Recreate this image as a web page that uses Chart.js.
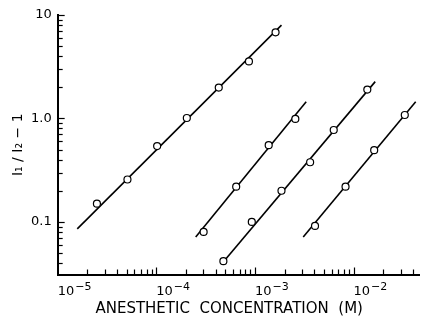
<!DOCTYPE html>
<html>
<head>
<meta charset="utf-8">
<script src="https://cdn.jsdelivr.net/npm/chart.js@4"></script>
<style>
  body { margin: 0; background: #fff; }
  #wrap { width: 425px; height: 318px; }
</style>
</head>
<body>
<div id="wrap"><canvas id="myChart"></canvas></div>
<script>
// measured points, four anesthetics
const s1X = [2.5e-5, 5.1e-5, 1.02e-4, 2.04e-4, 4.3e-4, 8.7e-4, 1.62e-3];
const s1Y = [0.15, 0.257, 0.54, 1.01, 1.99, 3.56, 6.8];
const s2X = [3.02e-4, 6.46e-4, 1.38e-3, 2.57e-3];
const s2Y = [0.080, 0.219, 0.551, 0.99];
const s3X = [4.79e-4, 9.3e-4, 1.86e-3, 3.63e-3, 6.3e-3, 1.38e-2];
const s3Y = [0.0417, 0.1, 0.2, 0.377, 0.773, 1.9];
const s4X = [4.07e-3, 8.3e-3, 1.62e-2, 3.31e-2];
const s4Y = [0.0914, 0.219, 0.493, 1.08];

// fitted lines (end points)
const fit1X = [1.58e-5, 1.86e-3];
const fit1Y = [0.0855, 7.98];
const fit2X = [2.51e-4, 3.31e-3];
const fit2Y = [0.0714, 1.45];
const fit3X = [4.57e-4, 1.66e-2];
const fit3Y = [0.039, 2.27];
const fit4X = [3.09e-3, 4.27e-2];
const fit4Y = [0.0714, 1.45];

const xTickVals = [1e-5, 1e-4, 1e-3, 1e-2];
const xTickBase = ['10', '10', '10', '10'];
const xTickExp = ['\u22125', '\u22124', '\u22123', '\u22122'];
const yTickVals = [0.1, 1, 10];
const yTickLabels = ['0.1', '1.0', '10'];

const xMin = 1e-5, xMax = 0.047;
const yMin = 0.031, yMax = 10;

const toPts = (xs, ys) => xs.map((x, i) => ({ x: x, y: ys[i] }));

function pointSet(xs, ys) {
    return {
        data: toPts(xs, ys),
        showLine: false,
        pointRadius: 3.5,
        pointBorderWidth: 1.2,
        pointBorderColor: '#000',
        pointBackgroundColor: '#fff',
        order: 0
    };
}
function lineSet(xs, ys) {
    return {
        data: toPts(xs, ys),
        showLine: true,
        borderColor: '#000',
        borderWidth: 1.6,
        pointRadius: 0,
        order: 1
    };
}

// inward tick marks and the 10^n labels under the x axis
const axisDecor = {
    id: 'axisDecor',
    afterDraw(chart) {
        const ctx = chart.ctx;
        const xs = chart.scales.x, ys = chart.scales.y;
        ctx.save();
        ctx.strokeStyle = '#000';
        ctx.lineWidth = 1.2;
        for (let e = -6; e <= 1; e++) {
            for (let k = 1; k <= 9; k++) {
                const v = k * Math.pow(10, e);
                const len = k === 1 ? 7 : 5;
                if (v > xMin * 1.001 && v <= xMax) {
                    const px = Math.round(xs.getPixelForValue(v)) + 0.5;
                    ctx.beginPath();
                    ctx.moveTo(px, xs.top);
                    ctx.lineTo(px, xs.top - len);
                    ctx.stroke();
                }
                if (v >= yMin && v <= yMax * 1.001) {
                    const py = Math.round(ys.getPixelForValue(v)) + 0.5;
                    ctx.beginPath();
                    ctx.moveTo(ys.right, py);
                    ctx.lineTo(ys.right + len, py);
                    ctx.stroke();
                }
            }
        }
        ctx.fillStyle = '#000';
        ctx.textBaseline = 'alphabetic';
        ctx.textAlign = 'left';
        xTickVals.forEach((v, i) => {
            const px = xs.getPixelForValue(v);
            const base = xs.top + 20;
            ctx.font = '13px "DejaVu Sans"';
            ctx.fillText(xTickBase[i], px, base);
            const w = ctx.measureText(xTickBase[i]).width;
            ctx.font = '11px "DejaVu Sans"';
            ctx.fillText(xTickExp[i], px + w + 1, base - 5);
        });
        ctx.restore();
    }
};

const ctxMain = document.getElementById('myChart').getContext('2d');
const chart = new Chart(ctxMain, {
    type: 'scatter',
    data: {
        datasets: [
            pointSet(s1X, s1Y), pointSet(s2X, s2Y), pointSet(s3X, s3Y), pointSet(s4X, s4Y),
            lineSet(fit1X, fit1Y), lineSet(fit2X, fit2Y), lineSet(fit3X, fit3Y), lineSet(fit4X, fit4Y)
        ]
    },
    options: {
        responsive: true,
        maintainAspectRatio: false,
        animation: false,
        layout: { padding: { top: 15, right: 0, left: 11, bottom: 0 } },
        scales: {
            x: {
                type: 'logarithmic',
                min: xMin,
                max: xMax,
                afterBuildTicks: axis => { axis.ticks = xTickVals.map(v => ({ value: v })); },
                ticks: { display: false },
                grid: { display: false, drawTicks: false },
                border: { display: true, color: '#000', width: 2 },
                title: {
                    display: true,
                    // trailing spaces nudge the centred title a bit to the left, as in the original
                    text: 'ANESTHETIC  CONCENTRATION  (M)    ',
                    color: '#000',
                    font: { family: 'DejaVu Sans', size: 15, lineHeight: 1.1 },
                    padding: { top: 26, bottom: 1 }
                }
            },
            y: {
                type: 'logarithmic',
                min: yMin,
                max: yMax,
                afterBuildTicks: axis => { axis.ticks = yTickVals.map(v => ({ value: v })); },
                ticks: {
                    color: '#000',
                    font: { family: 'DejaVu Sans', size: 13 },
                    autoSkip: false,
                    padding: 6,
                    callback: (v, i) => yTickLabels[i]
                },
                grid: { display: false, drawTicks: false },
                border: { display: true, color: '#000', width: 2 },
                title: {
                    display: true,
                    text: 'I\u2081 / I\u2082 \u2212 1',
                    color: '#000',
                    font: { family: 'DejaVu Sans', size: 14, lineHeight: 1 },
                    padding: { top: 0, bottom: 0 }
                }
            }
        },
        plugins: {
            legend: { display: false },
            tooltip: { enabled: false }
        }
    },
    plugins: [axisDecor]
});
</script>
</body>
</html>
